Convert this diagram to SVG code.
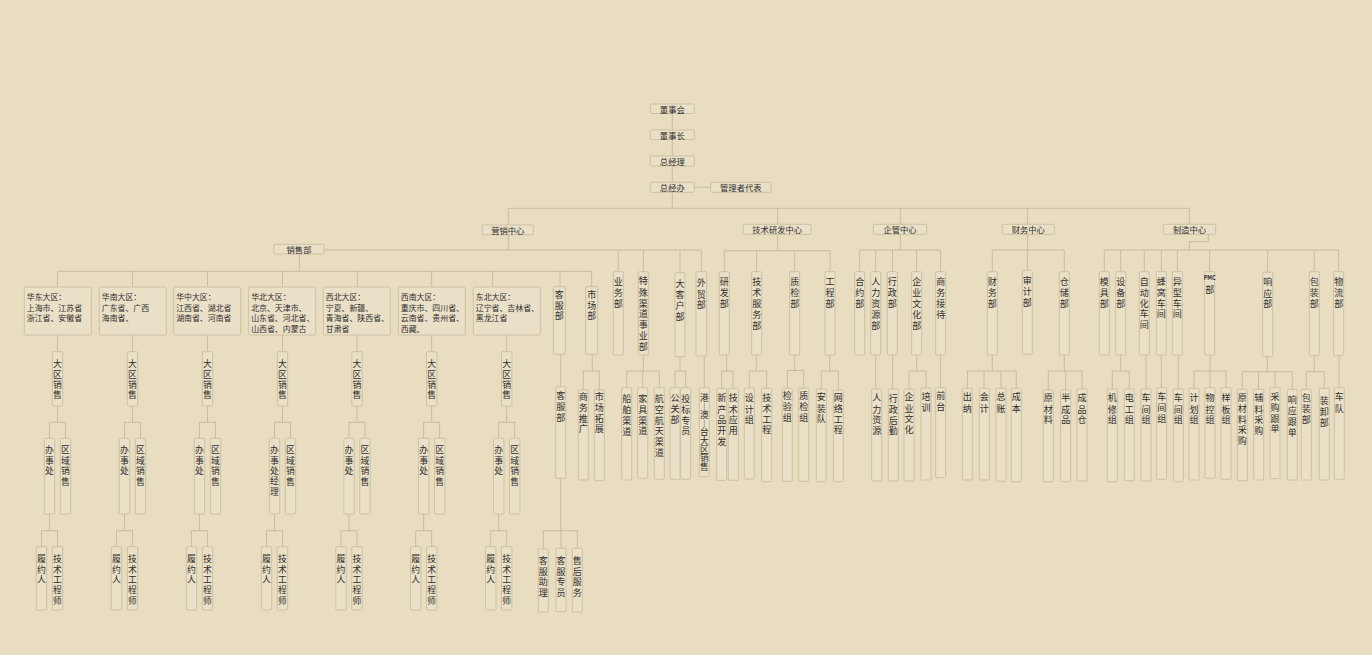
<svg xmlns="http://www.w3.org/2000/svg" width="1372" height="655" viewBox="0 0 1372 655">
<style>
.b{fill:#EAE0C7;stroke:#CBBE9E;stroke-width:0.9}
.c{fill:none;stroke:#C6B999;stroke-width:0.9}
text{font-family:"Noto Sans CJK SC","Noto Sans CJK JP",sans-serif;fill:#2e2e2e;dominant-baseline:central}
.h{font-size:8.3px;text-anchor:middle}
.r{font-size:7.9px}
.v{font-size:9px;text-anchor:middle}
.s{font-size:8.8px;text-anchor:middle}
.vt{font-size:8.6px;writing-mode:vertical-rl;text-orientation:upright;font-feature-settings:"vert" 0,"vrt2" 0;dominant-baseline:auto}
</style>
<rect width="1372" height="655" fill="#E8DDC1"/>
<g id="connectors" class="c">
<path d="M672.3,113.5V130M672.3,139.5V156M672.3,166V182.3M672.3,192.3V208.3M694.3,187.3H710.7M508.3,208.3H1189.3M508.3,208.3V225M777.7,208.3V224.3M900.3,208.3V224.3M1027.7,208.3V224.3M1189.3,208.3V224.3"/>
<path d="M508.3,234.7V250M324,250H701.3M618.3,250V271.7M643.3,250V271.7M680,250V272.7M701.3,250V271.7M299.3,254V271.3M57.5,271.3H591.7M57.5,271.3V287M132.5,271.3V287M207.5,271.3V287M282.5,271.3V287M357.3,271.3V287M431.7,271.3V287M492.7,271.3V287M560,271.3V286.7M591.7,271.3V286.7"/>
<path d="M57.5,335V351.7M57.5,406V422.3M49.5,422.3H65.5M49.5,422.3V438.3M65.5,422.3V438.3M49.5,514V530.7M41.5,530.7H57.5M41.5,530.7V546.7M57.5,530.7V546.7"/>
<path d="M132.5,335V351.7M132.5,406V422.3M124.5,422.3H140.5M124.5,422.3V438.3M140.5,422.3V438.3M124.5,514V530.7M116.5,530.7H132.5M116.5,530.7V546.7M132.5,530.7V546.7"/>
<path d="M207.5,335V351.7M207.5,406V422.3M199.5,422.3H215.5M199.5,422.3V438.3M215.5,422.3V438.3M199.5,514V530.7M191.5,530.7H207.5M191.5,530.7V546.7M207.5,530.7V546.7"/>
<path d="M282.5,335V351.7M282.5,406V422.3M274.5,422.3H290.5M274.5,422.3V438.3M290.5,422.3V438.3M274.5,514V530.7M266.5,530.7H282.5M266.5,530.7V546.7M282.5,530.7V546.7"/>
<path d="M357,335V351.7M357,406V422.3M349,422.3H365M349,422.3V438.3M365,422.3V438.3M349,514V530.7M341,530.7H357M341,530.7V546.7M357,530.7V546.7"/>
<path d="M431.7,335V351.7M431.7,406V422.3M423.7,422.3H439.7M423.7,422.3V438.3M439.7,422.3V438.3M423.7,514V530.7M415.7,530.7H431.7M415.7,530.7V546.7M431.7,530.7V546.7"/>
<path d="M506.7,335V351.7M506.7,406V422.3M498.7,422.3H514.7M498.7,422.3V438.3M514.7,422.3V438.3M498.7,514V530.7M490.7,530.7H506.7M490.7,530.7V546.7M506.7,530.7V546.7"/>
<path d="M560.7,354.3V386.7M560.7,478.3V530.7M543.3,530.7H577.3M543.3,530.7V549M561,530.7V548.3M577.3,530.7V548.3M592.3,354.3V371M583.3,371H599.3M583.3,371V390M599.3,371V390M643.3,355V371M626.7,371H659.3M626.7,371V387.7M642.7,371V387.7M659.3,371V387.7M680,356.7V371M675,371H685.7M675,371V387.7M685.7,371V387.7M704.3,356V387.7"/>
<path d="M777.7,234.3V250.7M724.3,250.7H830M724.3,250.7V271.7M756.7,250.7V271.7M794.7,250.7V271.7M830,250.7V271.7M726.7,355V371M721.7,371H733M721.7,371V388.3M733,371V388.3M756.3,355V371M749.3,371H766.7M749.3,371V388M766.7,371V388.3M794.7,355V370.5M787.3,370.5H803.7M787.3,370.5V388.3M803.7,370.5V388.3M829.7,355V371M821.3,371H838.3M821.3,371V389M838.3,371V390"/>
<path d="M900.3,234.3V250M859.7,250H940.7M859.7,250V271.7M875.7,250V271.7M892.5,250V271.7M916.7,250V271.7M940.7,250V271.7M875.7,355V389M892.7,355V389M916.7,355V371M909,371H926M909,371V389M926,371V388M940.5,355V387.7"/>
<path d="M1027.7,234.3V250M992.3,250H1064.3M992.3,250V271.7M1027.3,250V270.3M1064.3,250V271.7M992.3,355V371M967.5,371H1016.3M967.5,371V388.3M984,371V388.3M1001,371V388.3M1016.3,371V388.3M1064.3,355V371M1048.3,371H1082M1048.3,371V390M1065.7,371V390M1082,371V389"/>
<path d="M1208.3,234.3V241.7H1189.3V250M1104.3,250H1338.7M1104.3,250V271.7M1120.7,250V271.7M1144.3,250V271.7M1161.3,250V271.7M1177.3,250V271.7M1209.7,250V271.7M1267.7,250V272.3M1314.3,250V271.7M1338.7,250V271.7M1120.7,355V371M1112.3,371H1129.3M1112.3,371V389M1129.3,371V389M1146,355V389M1161.3,355V387.7M1178.3,355V389M1210,355V371M1194,371H1226M1194,371V388.3M1210,371V387.7M1226,371V387.7M1267.3,356.7V371.7M1242.3,371.7H1292.3M1242.3,371.7V389.3M1258.5,371.7V389.3M1275,371.7V387.7M1292.3,371.7V389.3M1314.3,355.7V371.7M1306.3,371.7H1324.3M1306.3,371.7V389.3M1324.3,371.7V388.3M1339,355.7V387.7"/>
</g>
<g id="dongshihui"><rect class="b" x="650.3" y="104" width="44" height="9.5" rx="1"/><text class="h" x="672.3" y="108.8">董事会</text></g>
<g id="dongshizhang"><rect class="b" x="650.3" y="130" width="44" height="9.5" rx="1"/><text class="h" x="672.3" y="134.8">董事长</text></g>
<g id="zongjingli"><rect class="b" x="650.3" y="156" width="44" height="10" rx="1"/><text class="h" x="672.3" y="161">总经理</text></g>
<g id="zongjingban"><rect class="b" x="650.3" y="182.3" width="44" height="10" rx="1"/><text class="h" x="672.3" y="187.3">总经办</text></g>
<g id="guanlizhe"><rect class="b" x="710.7" y="182.3" width="60.3" height="10" rx="1"/><text class="h" x="740.8" y="187.3">管理者代表</text></g>
<g id="yingxiao"><rect class="b" x="482.3" y="225" width="51" height="9.7" rx="1"/><text class="h" x="507.8" y="229.8">营销中心</text></g>
<g id="jishuyanfa"><rect class="b" x="743.3" y="224.3" width="67.7" height="10" rx="1"/><text class="h" x="777.2" y="229.3">技术研发中心</text></g>
<g id="qiguan"><rect class="b" x="873.3" y="224.3" width="53.4" height="10" rx="1"/><text class="h" x="900" y="229.3">企管中心</text></g>
<g id="caiwu"><rect class="b" x="1002.3" y="224.3" width="52" height="10" rx="1"/><text class="h" x="1028.3" y="229.3">财务中心</text></g>
<g id="zhizao"><rect class="b" x="1163.3" y="224.3" width="52.4" height="10" rx="1"/><text class="h" x="1189.5" y="229.3">制造中心</text></g>
<g id="xiaoshoubu"><rect class="b" x="274" y="244.3" width="50" height="9.7" rx="1"/><text class="h" x="299" y="249.2">销售部</text></g>
<g id="huadong"><rect class="b" x="24.3" y="287" width="67" height="48" rx="1.5"/><text class="r" x="26.8" y="296">华东大区：<tspan x="26.8" dy="10.6">上海市、江苏省</tspan><tspan x="26.8" dy="10.6">浙江省、安徽省</tspan></text></g>
<g id="huanan"><rect class="b" x="99.3" y="287" width="67" height="48" rx="1.5"/><text class="r" x="101.8" y="296">华南大区：<tspan x="101.8" dy="10.6">广东省、广西</tspan><tspan x="101.8" dy="10.6">海南省、</tspan></text></g>
<g id="huazhong"><rect class="b" x="173.7" y="287" width="67" height="48" rx="1.5"/><text class="r" x="176.2" y="296">华中大区：<tspan x="176.2" dy="10.6">江西省、湖北省</tspan><tspan x="176.2" dy="10.6">湖南省、河南省</tspan></text></g>
<g id="huabei"><rect class="b" x="248.7" y="287" width="67" height="48" rx="1.5"/><text class="r" x="251.2" y="296">华北大区：<tspan x="251.2" dy="10.6">北京、天津市、</tspan><tspan x="251.2" dy="10.6">山东省、河北省、</tspan><tspan x="251.2" dy="10.6">山西省、内蒙古</tspan></text></g>
<g id="xibei"><rect class="b" x="323.3" y="287" width="67" height="48" rx="1.5"/><text class="r" x="325.8" y="296">西北大区：<tspan x="325.8" dy="10.6">宁夏、新疆、</tspan><tspan x="325.8" dy="10.6">青海省、陕西省、</tspan><tspan x="325.8" dy="10.6">甘肃省</tspan></text></g>
<g id="xinan"><rect class="b" x="398.3" y="287" width="67" height="48" rx="1.5"/><text class="r" x="400.8" y="296">西南大区：<tspan x="400.8" dy="10.6">重庆市、四川省、</tspan><tspan x="400.8" dy="10.6">云南省、贵州省、</tspan><tspan x="400.8" dy="10.6">西藏、</tspan></text></g>
<g id="dongbei"><rect class="b" x="473.3" y="287" width="67" height="48" rx="1.5"/><text class="r" x="475.8" y="296">东北大区：<tspan x="475.8" dy="10.6">辽宁省、吉林省、</tspan><tspan x="475.8" dy="10.6">黑龙江省</tspan></text></g>

<g id="r1-dq"><rect class="b" x="52.3" y="351.7" width="10.4" height="54.3" rx="1"/><text class="s" x="57.5" y="363.3">大<tspan x="57.5" dy="10.3">区</tspan><tspan x="57.5" dy="10.3">销</tspan><tspan x="57.5" dy="10.3">售</tspan></text></g>
<g id="r1-bsc"><rect class="b" x="44.3" y="438.3" width="10.4" height="75.7" rx="1"/><text class="s" x="49.5" y="449.3">办<tspan x="49.5" dy="10.3">事</tspan><tspan x="49.5" dy="10.3">处</tspan></text></g>
<g id="r1-qy"><rect class="b" x="60.3" y="438.3" width="10.4" height="75.7" rx="1"/><text class="s" x="65.5" y="449.7">区<tspan x="65.5" dy="10.3">域</tspan><tspan x="65.5" dy="10.3">销</tspan><tspan x="65.5" dy="10.3">售</tspan></text></g>
<g id="r1-ly"><rect class="b" x="36.3" y="546.7" width="10.4" height="63.3" rx="1"/><text class="s" x="41.5" y="558.3">履<tspan x="41.5" dy="10.3">约</tspan><tspan x="41.5" dy="10.3">人</tspan></text></g>
<g id="r1-js"><rect class="b" x="52.3" y="546.7" width="10.4" height="63.3" rx="1"/><text class="s" x="57.5" y="558.3">技<tspan x="57.5" dy="10.3">术</tspan><tspan x="57.5" dy="10.3">工</tspan><tspan x="57.5" dy="10.3">程</tspan><tspan x="57.5" dy="10.3">师</tspan></text></g>

<g id="r2-dq"><rect class="b" x="127.3" y="351.7" width="10.4" height="54.3" rx="1"/><text class="s" x="132.5" y="363.3">大<tspan x="132.5" dy="10.3">区</tspan><tspan x="132.5" dy="10.3">销</tspan><tspan x="132.5" dy="10.3">售</tspan></text></g>
<g id="r2-bsc"><rect class="b" x="119.3" y="438.3" width="10.4" height="75.7" rx="1"/><text class="s" x="124.5" y="449.3">办<tspan x="124.5" dy="10.3">事</tspan><tspan x="124.5" dy="10.3">处</tspan></text></g>
<g id="r2-qy"><rect class="b" x="135.3" y="438.3" width="10.4" height="75.7" rx="1"/><text class="s" x="140.5" y="449.7">区<tspan x="140.5" dy="10.3">域</tspan><tspan x="140.5" dy="10.3">销</tspan><tspan x="140.5" dy="10.3">售</tspan></text></g>
<g id="r2-ly"><rect class="b" x="111.3" y="546.7" width="10.4" height="63.3" rx="1"/><text class="s" x="116.5" y="558.3">履<tspan x="116.5" dy="10.3">约</tspan><tspan x="116.5" dy="10.3">人</tspan></text></g>
<g id="r2-js"><rect class="b" x="127.3" y="546.7" width="10.4" height="63.3" rx="1"/><text class="s" x="132.5" y="558.3">技<tspan x="132.5" dy="10.3">术</tspan><tspan x="132.5" dy="10.3">工</tspan><tspan x="132.5" dy="10.3">程</tspan><tspan x="132.5" dy="10.3">师</tspan></text></g>

<g id="r3-dq"><rect class="b" x="202.3" y="351.7" width="10.4" height="54.3" rx="1"/><text class="s" x="207.5" y="363.3">大<tspan x="207.5" dy="10.3">区</tspan><tspan x="207.5" dy="10.3">销</tspan><tspan x="207.5" dy="10.3">售</tspan></text></g>
<g id="r3-bsc"><rect class="b" x="194.3" y="438.3" width="10.4" height="75.7" rx="1"/><text class="s" x="199.5" y="449.3">办<tspan x="199.5" dy="10.3">事</tspan><tspan x="199.5" dy="10.3">处</tspan></text></g>
<g id="r3-qy"><rect class="b" x="210.3" y="438.3" width="10.4" height="75.7" rx="1"/><text class="s" x="215.5" y="449.7">区<tspan x="215.5" dy="10.3">域</tspan><tspan x="215.5" dy="10.3">销</tspan><tspan x="215.5" dy="10.3">售</tspan></text></g>
<g id="r3-ly"><rect class="b" x="186.3" y="546.7" width="10.4" height="63.3" rx="1"/><text class="s" x="191.5" y="558.3">履<tspan x="191.5" dy="10.3">约</tspan><tspan x="191.5" dy="10.3">人</tspan></text></g>
<g id="r3-js"><rect class="b" x="202.3" y="546.7" width="10.4" height="63.3" rx="1"/><text class="s" x="207.5" y="558.3">技<tspan x="207.5" dy="10.3">术</tspan><tspan x="207.5" dy="10.3">工</tspan><tspan x="207.5" dy="10.3">程</tspan><tspan x="207.5" dy="10.3">师</tspan></text></g>

<g id="r4-dq"><rect class="b" x="277.3" y="351.7" width="10.4" height="54.3" rx="1"/><text class="s" x="282.5" y="363.3">大<tspan x="282.5" dy="10.3">区</tspan><tspan x="282.5" dy="10.3">销</tspan><tspan x="282.5" dy="10.3">售</tspan></text></g>
<g id="r4-bsc"><rect class="b" x="269.3" y="438.3" width="10.4" height="75.7" rx="1"/><text class="s" x="274.5" y="449.3">办<tspan x="274.5" dy="10.3">事</tspan><tspan x="274.5" dy="10.3">处</tspan><tspan x="274.5" dy="10.3">经</tspan><tspan x="274.5" dy="10.3">理</tspan></text></g>
<g id="r4-qy"><rect class="b" x="285.3" y="438.3" width="10.4" height="75.7" rx="1"/><text class="s" x="290.5" y="449.7">区<tspan x="290.5" dy="10.3">域</tspan><tspan x="290.5" dy="10.3">销</tspan><tspan x="290.5" dy="10.3">售</tspan></text></g>
<g id="r4-ly"><rect class="b" x="261.3" y="546.7" width="10.4" height="63.3" rx="1"/><text class="s" x="266.5" y="558.3">履<tspan x="266.5" dy="10.3">约</tspan><tspan x="266.5" dy="10.3">人</tspan></text></g>
<g id="r4-js"><rect class="b" x="277.3" y="546.7" width="10.4" height="63.3" rx="1"/><text class="s" x="282.5" y="558.3">技<tspan x="282.5" dy="10.3">术</tspan><tspan x="282.5" dy="10.3">工</tspan><tspan x="282.5" dy="10.3">程</tspan><tspan x="282.5" dy="10.3">师</tspan></text></g>

<g id="r5-dq"><rect class="b" x="351.8" y="351.7" width="10.4" height="54.3" rx="1"/><text class="s" x="357" y="363.3">大<tspan x="357" dy="10.3">区</tspan><tspan x="357" dy="10.3">销</tspan><tspan x="357" dy="10.3">售</tspan></text></g>
<g id="r5-bsc"><rect class="b" x="343.8" y="438.3" width="10.4" height="75.7" rx="1"/><text class="s" x="349" y="449.3">办<tspan x="349" dy="10.3">事</tspan><tspan x="349" dy="10.3">处</tspan></text></g>
<g id="r5-qy"><rect class="b" x="359.8" y="438.3" width="10.4" height="75.7" rx="1"/><text class="s" x="365" y="449.7">区<tspan x="365" dy="10.3">域</tspan><tspan x="365" dy="10.3">销</tspan><tspan x="365" dy="10.3">售</tspan></text></g>
<g id="r5-ly"><rect class="b" x="335.8" y="546.7" width="10.4" height="63.3" rx="1"/><text class="s" x="341" y="558.3">履<tspan x="341" dy="10.3">约</tspan><tspan x="341" dy="10.3">人</tspan></text></g>
<g id="r5-js"><rect class="b" x="351.8" y="546.7" width="10.4" height="63.3" rx="1"/><text class="s" x="357" y="558.3">技<tspan x="357" dy="10.3">术</tspan><tspan x="357" dy="10.3">工</tspan><tspan x="357" dy="10.3">程</tspan><tspan x="357" dy="10.3">师</tspan></text></g>

<g id="r6-dq"><rect class="b" x="426.5" y="351.7" width="10.4" height="54.3" rx="1"/><text class="s" x="431.7" y="363.3">大<tspan x="431.7" dy="10.3">区</tspan><tspan x="431.7" dy="10.3">销</tspan><tspan x="431.7" dy="10.3">售</tspan></text></g>
<g id="r6-bsc"><rect class="b" x="418.5" y="438.3" width="10.4" height="75.7" rx="1"/><text class="s" x="423.7" y="449.3">办<tspan x="423.7" dy="10.3">事</tspan><tspan x="423.7" dy="10.3">处</tspan></text></g>
<g id="r6-qy"><rect class="b" x="434.5" y="438.3" width="10.4" height="75.7" rx="1"/><text class="s" x="439.7" y="449.7">区<tspan x="439.7" dy="10.3">域</tspan><tspan x="439.7" dy="10.3">销</tspan><tspan x="439.7" dy="10.3">售</tspan></text></g>
<g id="r6-ly"><rect class="b" x="410.5" y="546.7" width="10.4" height="63.3" rx="1"/><text class="s" x="415.7" y="558.3">履<tspan x="415.7" dy="10.3">约</tspan><tspan x="415.7" dy="10.3">人</tspan></text></g>
<g id="r6-js"><rect class="b" x="426.5" y="546.7" width="10.4" height="63.3" rx="1"/><text class="s" x="431.7" y="558.3">技<tspan x="431.7" dy="10.3">术</tspan><tspan x="431.7" dy="10.3">工</tspan><tspan x="431.7" dy="10.3">程</tspan><tspan x="431.7" dy="10.3">师</tspan></text></g>

<g id="r7-dq"><rect class="b" x="501.5" y="351.7" width="10.4" height="54.3" rx="1"/><text class="s" x="506.7" y="363.3">大<tspan x="506.7" dy="10.3">区</tspan><tspan x="506.7" dy="10.3">销</tspan><tspan x="506.7" dy="10.3">售</tspan></text></g>
<g id="r7-bsc"><rect class="b" x="493.5" y="438.3" width="10.4" height="75.7" rx="1"/><text class="s" x="498.7" y="449.3">办<tspan x="498.7" dy="10.3">事</tspan><tspan x="498.7" dy="10.3">处</tspan></text></g>
<g id="r7-qy"><rect class="b" x="509.5" y="438.3" width="10.4" height="75.7" rx="1"/><text class="s" x="514.7" y="449.7">区<tspan x="514.7" dy="10.3">域</tspan><tspan x="514.7" dy="10.3">销</tspan><tspan x="514.7" dy="10.3">售</tspan></text></g>
<g id="r7-ly"><rect class="b" x="485.5" y="546.7" width="10.4" height="63.3" rx="1"/><text class="s" x="490.7" y="558.3">履<tspan x="490.7" dy="10.3">约</tspan><tspan x="490.7" dy="10.3">人</tspan></text></g>
<g id="r7-js"><rect class="b" x="501.5" y="546.7" width="10.4" height="63.3" rx="1"/><text class="s" x="506.7" y="558.3">技<tspan x="506.7" dy="10.3">术</tspan><tspan x="506.7" dy="10.3">工</tspan><tspan x="506.7" dy="10.3">程</tspan><tspan x="506.7" dy="10.3">师</tspan></text></g>

<g id="kefubu1"><rect class="b" x="553.3" y="286.7" width="12" height="67.6" rx="1"/><text class="v" x="559.3" y="294">客<tspan x="559.3" dy="10.7">服</tspan><tspan x="559.3" dy="10.7">部</tspan></text></g>
<g id="shichangbu1"><rect class="b" x="585.7" y="286.7" width="12" height="67.6" rx="1"/><text class="v" x="591.7" y="294">市<tspan x="591.7" dy="10.7">场</tspan><tspan x="591.7" dy="10.7">部</tspan></text></g>
<g id="yewubu"><rect class="b" x="613.3" y="271.7" width="10" height="83.3" rx="1"/><text class="v" x="618.3" y="281.5">业<tspan x="618.3" dy="10.8">务</tspan><tspan x="618.3" dy="10.8">部</tspan></text></g>
<g id="teshu"><rect class="b" x="638.3" y="271.7" width="10" height="83.3" rx="1"/><text class="v" x="643.3" y="280.7">特<tspan x="643.3" dy="10.9">殊</tspan><tspan x="643.3" dy="10.9">渠</tspan><tspan x="643.3" dy="10.9">道</tspan><tspan x="643.3" dy="10.9">事</tspan><tspan x="643.3" dy="10.9">业</tspan><tspan x="643.3" dy="10.9">部</tspan></text></g>
<g id="dakehu"><rect class="b" x="675" y="272.7" width="10" height="84" rx="1"/><text class="v" x="680" y="283.3">大<tspan x="680" dy="10.8">客</tspan><tspan x="680" dy="10.8">户</tspan><tspan x="680" dy="10.8">部</tspan></text></g>
<g id="waimao"><rect class="b" x="696" y="271.7" width="10.7" height="84.3" rx="1"/><text class="v" x="701.3" y="282.7">外<tspan x="701.3" dy="10.8">贸</tspan><tspan x="701.3" dy="10.8">部</tspan></text></g>

<g id="kefubu2"><rect class="b" x="555.7" y="386.7" width="10" height="91.6" rx="1"/><text class="v" x="560.7" y="395.5">客<tspan x="560.7" dy="10.8">服</tspan><tspan x="560.7" dy="10.8">部</tspan></text></g>
<g id="shangwutuiguang"><rect class="b" x="578.3" y="390" width="10" height="90" rx="1"/><text class="v" x="583.3" y="396">商<tspan x="583.3" dy="10.8">务</tspan><tspan x="583.3" dy="10.8">推</tspan><tspan x="583.3" dy="10.8">广</tspan></text></g>
<g id="shichangtuozhan"><rect class="b" x="594.3" y="390" width="10" height="90.7" rx="1"/><text class="v" x="599.3" y="396">市<tspan x="599.3" dy="10.8">场</tspan><tspan x="599.3" dy="10.8">拓</tspan><tspan x="599.3" dy="10.8">展</tspan></text></g>
<g id="chuanbo"><rect class="b" x="621.7" y="387.7" width="10" height="92.3" rx="1"/><text class="v" x="626.7" y="398.3">船<tspan x="626.7" dy="10.8">舶</tspan><tspan x="626.7" dy="10.8">渠</tspan><tspan x="626.7" dy="10.8">道</tspan></text></g>
<g id="jiaju"><rect class="b" x="637.7" y="387.7" width="10" height="90.6" rx="1"/><text class="v" x="642.7" y="398">家<tspan x="642.7" dy="10.8">具</tspan><tspan x="642.7" dy="10.8">渠</tspan><tspan x="642.7" dy="10.8">道</tspan></text></g>
<g id="hangkong"><rect class="b" x="654.3" y="387.7" width="10" height="91.6" rx="1"/><text class="v" x="659.3" y="398">航<tspan x="659.3" dy="10.8">空</tspan><tspan x="659.3" dy="10.8">航</tspan><tspan x="659.3" dy="10.8">天</tspan><tspan x="659.3" dy="10.8">渠</tspan><tspan x="659.3" dy="10.8">道</tspan></text></g>
<g id="gongguan"><rect class="b" x="670" y="387.7" width="10" height="91.6" rx="1"/><text class="v" x="675" y="397">公<tspan x="675" dy="10.8">关</tspan><tspan x="675" dy="10.8">部</tspan></text></g>
<g id="toubiao"><rect class="b" x="680.7" y="387.7" width="10" height="91.6" rx="1"/><text class="v" x="685.7" y="398">投<tspan x="685.7" dy="10.8">标</tspan><tspan x="685.7" dy="10.8">专</tspan><tspan x="685.7" dy="10.8">员</tspan></text></g>
<g id="gangaotai"><rect class="b" x="699.3" y="387.7" width="10" height="89" rx="1"/><text class="vt" x="704.3" y="393.5">港—澳—台大区销售</text></g>
<g id="kefuzhuli"><rect class="b" x="538.3" y="549" width="10" height="63" rx="1"/><text class="v" x="543.3" y="560">客<tspan x="543.3" dy="10.6">服</tspan><tspan x="543.3" dy="10.6">助</tspan><tspan x="543.3" dy="10.6">理</tspan></text></g>
<g id="kefuzhuanyuan"><rect class="b" x="556" y="548.3" width="10" height="63.4" rx="1"/><text class="v" x="561" y="560">客<tspan x="561" dy="10.6">服</tspan><tspan x="561" dy="10.6">专</tspan><tspan x="561" dy="10.6">员</tspan></text></g>
<g id="shouhou"><rect class="b" x="572.3" y="548.3" width="10" height="63.7" rx="1"/><text class="v" x="577.3" y="560">售<tspan x="577.3" dy="10.6">后</tspan><tspan x="577.3" dy="10.6">服</tspan><tspan x="577.3" dy="10.6">务</tspan></text></g>

<g id="yanfabu"><rect class="b" x="719.3" y="271.7" width="10" height="83.3" rx="1"/><text class="v" x="724.3" y="281.5">研<tspan x="724.3" dy="10.8">发</tspan><tspan x="724.3" dy="10.8">部</tspan></text></g>
<g id="jishufuwu"><rect class="b" x="751.7" y="271.7" width="10" height="83.3" rx="1"/><text class="v" x="756.7" y="281.5">技<tspan x="756.7" dy="10.8">术</tspan><tspan x="756.7" dy="10.8">服</tspan><tspan x="756.7" dy="10.8">务</tspan><tspan x="756.7" dy="10.8">部</tspan></text></g>
<g id="zhijianbu"><rect class="b" x="789.7" y="271.7" width="10" height="83.3" rx="1"/><text class="v" x="794.7" y="281.5">质<tspan x="794.7" dy="10.8">检</tspan><tspan x="794.7" dy="10.8">部</tspan></text></g>
<g id="gongchengbu"><rect class="b" x="825" y="271.7" width="10" height="83.3" rx="1"/><text class="v" x="830" y="281.5">工<tspan x="830" dy="10.8">程</tspan><tspan x="830" dy="10.8">部</tspan></text></g>
<g id="xinchanpin"><rect class="b" x="716.7" y="388.3" width="10" height="92" rx="1"/><text class="v" x="721.7" y="397.7">新<tspan x="721.7" dy="10.8">产</tspan><tspan x="721.7" dy="10.8">品</tspan><tspan x="721.7" dy="10.8">开</tspan><tspan x="721.7" dy="10.8">发</tspan></text></g>
<g id="jishuyingyong"><rect class="b" x="728.3" y="388.3" width="10" height="92" rx="1"/><text class="v" x="733.3" y="397.7">技<tspan x="733.3" dy="10.8">术</tspan><tspan x="733.3" dy="10.8">应</tspan><tspan x="733.3" dy="10.8">用</tspan></text></g>
<g id="shejizu"><rect class="b" x="744.3" y="388" width="10" height="91" rx="1"/><text class="v" x="749.3" y="397.7">设<tspan x="749.3" dy="10.8">计</tspan><tspan x="749.3" dy="10.8">组</tspan></text></g>
<g id="jishugongcheng"><rect class="b" x="761.7" y="388.3" width="10" height="93.4" rx="1"/><text class="v" x="766.7" y="397">技<tspan x="766.7" dy="10.8">术</tspan><tspan x="766.7" dy="10.8">工</tspan><tspan x="766.7" dy="10.8">程</tspan></text></g>
<g id="jianyanzu"><rect class="b" x="782.3" y="388.3" width="10" height="93" rx="1"/><text class="v" x="787.3" y="395.5">检<tspan x="787.3" dy="10.8">验</tspan><tspan x="787.3" dy="10.8">组</tspan></text></g>
<g id="zhijianzu"><rect class="b" x="798.7" y="388.3" width="10" height="93" rx="1"/><text class="v" x="803.7" y="395.5">质<tspan x="803.7" dy="10.8">检</tspan><tspan x="803.7" dy="10.8">组</tspan></text></g>
<g id="anzhuangdui"><rect class="b" x="816.3" y="389" width="10" height="92.7" rx="1"/><text class="v" x="821.3" y="396.7">安<tspan x="821.3" dy="10.8">装</tspan><tspan x="821.3" dy="10.8">队</tspan></text></g>
<g id="wangluo"><rect class="b" x="833.3" y="390" width="10" height="91.7" rx="1"/><text class="v" x="838.3" y="397">网<tspan x="838.3" dy="10.8">络</tspan><tspan x="838.3" dy="10.8">工</tspan><tspan x="838.3" dy="10.8">程</tspan></text></g>

<g id="heyuebu"><rect class="b" x="854.7" y="271.7" width="10" height="83.3" rx="1"/><text class="v" x="859.7" y="281.5">合<tspan x="859.7" dy="10.8">约</tspan><tspan x="859.7" dy="10.8">部</tspan></text></g>
<g id="renliziyuanbu"><rect class="b" x="870.7" y="271.7" width="10" height="83.3" rx="1"/><text class="v" x="875.7" y="281.5">人<tspan x="875.7" dy="10.8">力</tspan><tspan x="875.7" dy="10.8">资</tspan><tspan x="875.7" dy="10.8">源</tspan><tspan x="875.7" dy="10.8">部</tspan></text></g>
<g id="xingzhengbu"><rect class="b" x="887.3" y="271.7" width="10" height="83.3" rx="1"/><text class="v" x="892.3" y="281.5">行<tspan x="892.3" dy="10.8">政</tspan><tspan x="892.3" dy="10.8">部</tspan></text></g>
<g id="qiyewenhuabu"><rect class="b" x="911.7" y="271.7" width="10" height="83.3" rx="1"/><text class="v" x="916.7" y="281.5">企<tspan x="916.7" dy="10.8">业</tspan><tspan x="916.7" dy="10.8">文</tspan><tspan x="916.7" dy="10.8">化</tspan><tspan x="916.7" dy="10.8">部</tspan></text></g>
<g id="shangwujiedai"><rect class="b" x="935.7" y="271.7" width="10" height="83.3" rx="1"/><text class="v" x="940.7" y="281.5">商<tspan x="940.7" dy="10.8">务</tspan><tspan x="940.7" dy="10.8">接</tspan><tspan x="940.7" dy="10.8">待</tspan></text></g>
<g id="renliziyuan"><rect class="b" x="871.7" y="389" width="10" height="92" rx="1"/><text class="v" x="876.7" y="397.7">人<tspan x="876.7" dy="10.8">力</tspan><tspan x="876.7" dy="10.8">资</tspan><tspan x="876.7" dy="10.8">源</tspan></text></g>
<g id="xingzhenghouqin"><rect class="b" x="888.3" y="389" width="10" height="92" rx="1"/><text class="v" x="893.3" y="398">行<tspan x="893.3" dy="10.8">政</tspan><tspan x="893.3" dy="10.8">后</tspan><tspan x="893.3" dy="10.8">勤</tspan></text></g>
<g id="qiyewenhua"><rect class="b" x="904" y="389" width="10" height="92" rx="1"/><text class="v" x="909" y="396.7">企<tspan x="909" dy="10.8">业</tspan><tspan x="909" dy="10.8">文</tspan><tspan x="909" dy="10.8">化</tspan></text></g>
<g id="peixun"><rect class="b" x="921" y="388" width="10" height="92" rx="1"/><text class="v" x="926" y="396">培<tspan x="926" dy="10.8">训</tspan></text></g>
<g id="qiantai"><rect class="b" x="935.7" y="387.7" width="10" height="90" rx="1"/><text class="v" x="940.7" y="395.3">前<tspan x="940.7" dy="10.8">台</tspan></text></g>

<g id="caiwubu"><rect class="b" x="987.3" y="271.7" width="10" height="83.3" rx="1"/><text class="v" x="992.3" y="281.5">财<tspan x="992.3" dy="10.8">务</tspan><tspan x="992.3" dy="10.8">部</tspan></text></g>
<g id="shenjibu"><rect class="b" x="1022.3" y="270.3" width="10" height="84" rx="1"/><text class="v" x="1027.3" y="280">审<tspan x="1027.3" dy="10.8">计</tspan><tspan x="1027.3" dy="10.8">部</tspan></text></g>
<g id="cangchubu"><rect class="b" x="1059.3" y="271.7" width="10" height="83.3" rx="1"/><text class="v" x="1064.3" y="281.5">仓<tspan x="1064.3" dy="10.8">储</tspan><tspan x="1064.3" dy="10.8">部</tspan></text></g>
<g id="chuna"><rect class="b" x="962.3" y="388.3" width="10" height="91.7" rx="1"/><text class="v" x="967.3" y="396.7">出<tspan x="967.3" dy="10.8">纳</tspan></text></g>
<g id="kuaiji"><rect class="b" x="979.3" y="388.3" width="10" height="91.7" rx="1"/><text class="v" x="984.3" y="396.7">会<tspan x="984.3" dy="10.8">计</tspan></text></g>
<g id="zongzhang"><rect class="b" x="996" y="388.3" width="10" height="93" rx="1"/><text class="v" x="1001" y="396.7">总<tspan x="1001" dy="10.8">账</tspan></text></g>
<g id="chengben"><rect class="b" x="1011.3" y="388.3" width="10" height="93.4" rx="1"/><text class="v" x="1016.3" y="396.7">成<tspan x="1016.3" dy="10.8">本</tspan></text></g>
<g id="yuancailiao"><rect class="b" x="1043.3" y="390" width="10" height="91.7" rx="1"/><text class="v" x="1048.3" y="397.7">原<tspan x="1048.3" dy="10.8">材</tspan><tspan x="1048.3" dy="10.8">料</tspan></text></g>
<g id="banchengpin"><rect class="b" x="1060.7" y="390" width="10" height="91.7" rx="1"/><text class="v" x="1065.7" y="397.7">半<tspan x="1065.7" dy="10.8">成</tspan><tspan x="1065.7" dy="10.8">品</tspan></text></g>
<g id="chengpincang"><rect class="b" x="1077" y="389" width="10" height="92" rx="1"/><text class="v" x="1082" y="397.7">成<tspan x="1082" dy="10.8">品</tspan><tspan x="1082" dy="10.8">仓</tspan></text></g>

<g id="mojubu"><rect class="b" x="1099.3" y="271.7" width="10" height="83.3" rx="1"/><text class="v" x="1104.3" y="281">模<tspan x="1104.3" dy="10.8">具</tspan><tspan x="1104.3" dy="10.8">部</tspan></text></g>
<g id="shebeibu"><rect class="b" x="1115.7" y="271.7" width="10" height="83.3" rx="1"/><text class="v" x="1120.7" y="281">设<tspan x="1120.7" dy="10.8">备</tspan><tspan x="1120.7" dy="10.8">部</tspan></text></g>
<g id="zidonghua"><rect class="b" x="1139.3" y="271.7" width="10" height="83.3" rx="1"/><text class="v" x="1144.3" y="281">自<tspan x="1144.3" dy="10.8">动</tspan><tspan x="1144.3" dy="10.8">化</tspan><tspan x="1144.3" dy="10.8">车</tspan><tspan x="1144.3" dy="10.8">间</tspan></text></g>
<g id="fengwo"><rect class="b" x="1156.3" y="271.7" width="10" height="83.3" rx="1"/><text class="v" x="1161.3" y="281">蜂<tspan x="1161.3" dy="10.8">窝</tspan><tspan x="1161.3" dy="10.8">车</tspan><tspan x="1161.3" dy="10.8">间</tspan></text></g>
<g id="yixing"><rect class="b" x="1172.3" y="271.7" width="10" height="83.3" rx="1"/><text class="v" x="1177.3" y="281">异<tspan x="1177.3" dy="10.8">型</tspan><tspan x="1177.3" dy="10.8">车</tspan><tspan x="1177.3" dy="10.8">间</tspan></text></g>
<g id="pmcbu"><rect class="b" x="1204.7" y="271.7" width="10" height="83.3" rx="1"/><text x="1209.7" y="277.5" text-anchor="middle" font-size="5.5px" font-weight="bold">PMC</text><text class="v" x="1209.7" y="289.5">部</text></g>
<g id="xiangyingbu"><rect class="b" x="1262.7" y="272.3" width="10" height="84.4" rx="1"/><text class="v" x="1267.7" y="281.7">响<tspan x="1267.7" dy="10.8">应</tspan><tspan x="1267.7" dy="10.8">部</tspan></text></g>
<g id="baozhuangbu"><rect class="b" x="1309.3" y="271.7" width="10" height="84" rx="1"/><text class="v" x="1314.3" y="281">包<tspan x="1314.3" dy="10.8">装</tspan><tspan x="1314.3" dy="10.8">部</tspan></text></g>
<g id="wuliubu"><rect class="b" x="1333.7" y="271.7" width="10" height="84" rx="1"/><text class="v" x="1338.7" y="281">物<tspan x="1338.7" dy="10.8">流</tspan><tspan x="1338.7" dy="10.8">部</tspan></text></g>
<g id="jixiuzu"><rect class="b" x="1107.3" y="389" width="10" height="92.7" rx="1"/><text class="v" x="1112.3" y="397.7">机<tspan x="1112.3" dy="10.8">修</tspan><tspan x="1112.3" dy="10.8">组</tspan></text></g>
<g id="diangongzu"><rect class="b" x="1124.3" y="389" width="10" height="91.7" rx="1"/><text class="v" x="1129.3" y="397.7">电<tspan x="1129.3" dy="10.8">工</tspan><tspan x="1129.3" dy="10.8">组</tspan></text></g>
<g id="chejianzu1"><rect class="b" x="1141" y="389" width="10" height="92" rx="1"/><text class="v" x="1146" y="397.7">车<tspan x="1146" dy="10.8">间</tspan><tspan x="1146" dy="10.8">组</tspan></text></g>
<g id="chejianzu2"><rect class="b" x="1156.7" y="387.7" width="10" height="91.6" rx="1"/><text class="v" x="1161.7" y="396.5">车<tspan x="1161.7" dy="10.8">间</tspan><tspan x="1161.7" dy="10.8">组</tspan></text></g>
<g id="chejianzu3"><rect class="b" x="1173.3" y="389" width="10" height="92.7" rx="1"/><text class="v" x="1178.3" y="397.7">车<tspan x="1178.3" dy="10.8">间</tspan><tspan x="1178.3" dy="10.8">组</tspan></text></g>
<g id="jihuazu"><rect class="b" x="1189" y="388.3" width="10" height="91.7" rx="1"/><text class="v" x="1194" y="397.7">计<tspan x="1194" dy="10.8">划</tspan><tspan x="1194" dy="10.8">组</tspan></text></g>
<g id="wukongzu"><rect class="b" x="1205" y="387.7" width="10" height="90.6" rx="1"/><text class="v" x="1210" y="397.7">物<tspan x="1210" dy="10.8">控</tspan><tspan x="1210" dy="10.8">组</tspan></text></g>
<g id="yangbanzu"><rect class="b" x="1221" y="387.7" width="10" height="91.6" rx="1"/><text class="v" x="1226" y="397.7">样<tspan x="1226" dy="10.8">板</tspan><tspan x="1226" dy="10.8">组</tspan></text></g>
<g id="yuancailiaocaigou"><rect class="b" x="1237.3" y="389.3" width="10" height="91.4" rx="1"/><text class="v" x="1242.3" y="397">原<tspan x="1242.3" dy="10.8">材</tspan><tspan x="1242.3" dy="10.8">料</tspan><tspan x="1242.3" dy="10.8">采</tspan><tspan x="1242.3" dy="10.8">购</tspan></text></g>
<g id="fuliaocaigou"><rect class="b" x="1253.7" y="389.3" width="10" height="90.7" rx="1"/><text class="v" x="1258.7" y="397.7">辅<tspan x="1258.7" dy="10.8">料</tspan><tspan x="1258.7" dy="10.8">采</tspan><tspan x="1258.7" dy="10.8">购</tspan></text></g>
<g id="caigougendan"><rect class="b" x="1270" y="387.7" width="10" height="91" rx="1"/><text class="v" x="1275" y="396">采<tspan x="1275" dy="10.8">购</tspan><tspan x="1275" dy="10.8">跟</tspan><tspan x="1275" dy="10.8">单</tspan></text></g>
<g id="xiangyinggendan"><rect class="b" x="1287.3" y="389.3" width="10" height="90.7" rx="1"/><text class="v" x="1292.3" y="399.3">响<tspan x="1292.3" dy="10.8">应</tspan><tspan x="1292.3" dy="10.8">跟</tspan><tspan x="1292.3" dy="10.8">单</tspan></text></g>
<g id="baozhuangbu2"><rect class="b" x="1301.3" y="389.3" width="10" height="90.7" rx="1"/><text class="v" x="1306.3" y="397.5">包<tspan x="1306.3" dy="10.8">装</tspan><tspan x="1306.3" dy="10.8">部</tspan></text></g>
<g id="zhuangxiebu"><rect class="b" x="1319.3" y="388.3" width="10" height="91.7" rx="1"/><text class="v" x="1324.3" y="400">装<tspan x="1324.3" dy="10.8">卸</tspan><tspan x="1324.3" dy="10.8">部</tspan></text></g>
<g id="chedui"><rect class="b" x="1334.3" y="387.7" width="10" height="91.6" rx="1"/><text class="v" x="1339.3" y="396.7">车<tspan x="1339.3" dy="10.8">队</tspan></text></g>
</svg>
